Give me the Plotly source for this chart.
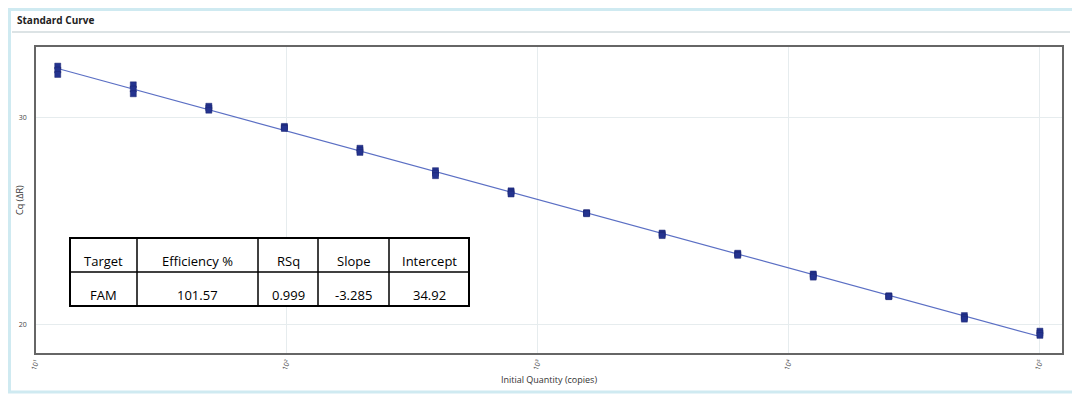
import numpy as np
import plotly.graph_objects as go

# ---- data ----
quantity = [100000 / 2 ** k for k in range(13, -1, -1)]  # 2-fold dilution series (copies)
cq_rep1 = [32.45, 31.55, 30.52, 29.55, 28.50, 27.42, 26.45, 25.40, 24.42, 23.45, 22.45, 21.40, 20.45, 19.70]
cq_rep2 = [32.26, 31.35, 30.43, 29.50, 28.40, 27.30, 26.38, 25.38, 24.36, 23.40, 22.38, 21.38, 20.36, 19.60]
cq_rep3 = [32.05, 31.12, 30.33, 29.45, 28.30, 27.18, 26.30, 25.35, 24.30, 23.35, 22.30, 21.36, 20.28, 19.50]
tick_vals = [1e1, 1e2, 1e3, 1e4, 1e5]
tick_text = ["10¹", "10²", "10³", "10⁴", "10⁵"]
table_header = ["Target", "Efficiency %", "RSq", "Slope", "Intercept"]
table_row = ["FAM", "101.57", "0.999", "-3.285", "34.92"]

OFF = 8  # page body margin
W, H = 1080 - OFF, 396 - OFF
L, T = 36 - OFF, 47 - OFF
R = W - (1062 - OFF)
B = H - (353 - OFF)
pw, ph = W - L - R, H - T - B

def px(x):  # page pixel -> paper fraction
    return (x - OFF - L) / pw

def py(y):
    return (H - B - (y - OFF)) / ph

fig = go.Figure()

# regression line
xs = np.log10(np.array(quantity * 3))
ys = np.array(cq_rep1 + cq_rep2 + cq_rep3)
slope, intercept = np.polyfit(xs, ys, 1)
xl = np.array([min(quantity), max(quantity)])
fig.add_trace(go.Scatter(x=xl, y=intercept + slope * np.log10(xl), mode="lines",
                         line=dict(color="#5b6fc4", width=1.2), hoverinfo="skip", showlegend=False))

for rep in (cq_rep1, cq_rep2, cq_rep3):
    fig.add_trace(go.Scatter(x=quantity, y=rep, mode="markers",
                             marker=dict(symbol="square", size=6, color="#24338f",
                                         line=dict(color="#1a2570", width=0.5)),
                             showlegend=False))

shapes = []
# outer frame
shapes.append(dict(type="rect", xref="paper", yref="paper", x0=px(9.5), x1=px(1076), y0=py(392), y1=py(9.5),
                   line=dict(color="#cfeaf1", width=3), layer="below"))
# header rule
shapes.append(dict(type="line", xref="paper", yref="paper", x0=px(12), x1=px(1070), y0=py(32), y1=py(32),
                   line=dict(color="#b9c7cb", width=1)))

# table
col_x = [70, 137, 258, 318, 389, 469]
row_y = [238, 272, 306]
shapes.append(dict(type="rect", xref="paper", yref="paper", x0=px(col_x[0]), x1=px(col_x[-1]),
                   y0=py(row_y[-1]), y1=py(row_y[0]), line=dict(color="black", width=2),
                   fillcolor="white", layer="above"))
for cx in col_x[1:-1]:
    shapes.append(dict(type="line", xref="paper", yref="paper", x0=px(cx), x1=px(cx),
                       y0=py(row_y[-1]), y1=py(row_y[0]), line=dict(color="black", width=1.5)))
shapes.append(dict(type="line", xref="paper", yref="paper", x0=px(col_x[0]), x1=px(col_x[-1]),
                   y0=py(row_y[1]), y1=py(row_y[1]), line=dict(color="black", width=1.5)))

annotations = []
for i in range(5):
    cxm = (col_x[i] + col_x[i + 1]) / 2
    for r, txt in enumerate((table_header[i], table_row[i])):
        annotations.append(dict(x=px(cxm), y=py((row_y[r] + row_y[r + 1]) / 2 + 6), xref="paper", yref="paper",
                                xanchor="center", yanchor="middle",
                                text=txt, showarrow=False, font=dict(size=13, color="black", family="Open Sans")))

annotations.append(dict(x=px(15), y=py(20), xref="paper", yref="paper", text="<b>Standard Curve</b>",
                        showarrow=False, xanchor="left", yanchor="middle",
                        font=dict(size=10, color="#222", family="Open Sans")))
annotations.append(dict(x=px(19), y=py(200), xref="paper", yref="paper", text="Cq (ΔR)",
                        showarrow=False, textangle=-90, xanchor="center", yanchor="middle",
                        font=dict(size=9, color="#333", family="Open Sans")))

fig.update_layout(
    width=W, height=H, margin=dict(l=L, r=R, t=T, b=B, autoexpand=False),
    paper_bgcolor="white", plot_bgcolor="white",
    shapes=shapes, annotations=annotations,
    font=dict(family="Open Sans", color="#333"),
    xaxis=dict(type="log", range=[1.0, 5.088], tickvals=tick_vals, ticktext=tick_text, tickangle=-70,
               tickfont=dict(size=7, color="#444"), showgrid=True, gridcolor="#e6ecee", gridwidth=1,
               zeroline=False, showline=True, linecolor="#666", linewidth=1.5, mirror=True, ticks="",
               automargin=False,
               title=dict(text="Initial Quantity (copies)", font=dict(size=9, color="#333"), standoff=6)),
    yaxis=dict(range=[18.65, 33.37], tickvals=[20, 30], tickfont=dict(size=7, color="#444"),
               showgrid=True, gridcolor="#e6ecee", gridwidth=1, zeroline=False, showline=True,
               linecolor="#666", linewidth=1.5, mirror=True, ticks="", automargin=False,
               ticklabelstandoff=6),
)

fig.write_html("out.html")
